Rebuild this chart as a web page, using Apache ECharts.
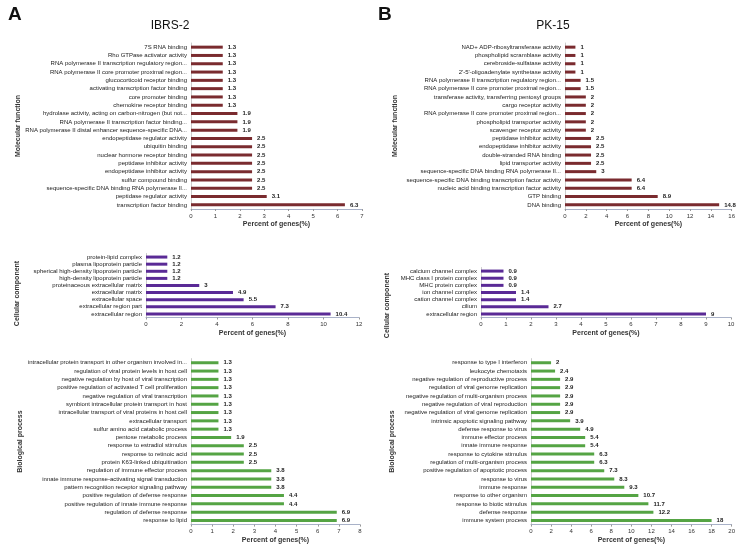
<!DOCTYPE html>
<html><head><meta charset="utf-8">
<script src="https://cdn.jsdelivr.net/npm/echarts@6/dist/echarts.min.js"></script>
<style>html,body{margin:0;padding:0;background:#fff}#c{width:738px;height:545px}</style>
</head><body><div id="c"></div>
<script>
// ---------- Data ----------
const aMfCats = ["7S RNA binding","Rho GTPase activator activity","RNA polymerase II transcription regulatory region...","RNA polymerase II core promoter proximal region...","glucocorticoid receptor binding","activating transcription factor binding","core promoter binding","chemokine receptor binding","hydrolase activity, acting on carbon-nitrogen (but not...","RNA polymerase II transcription factor binding...","RNA polymerase II distal enhancer sequence-specific DNA...","endopeptidase regulator activity","ubiquitin binding","nuclear hormone receptor binding","peptidase inhibitor activity","endopeptidase inhibitor activity","sulfur compound binding","sequence-specific DNA binding RNA polymerase II...","peptidase regulator activity","transcription factor binding"];
const aMfVals = [1.3,1.3,1.3,1.3,1.3,1.3,1.3,1.3,1.9,1.9,1.9,2.5,2.5,2.5,2.5,2.5,2.5,2.5,3.1,6.3];

const aCcCats = ["protein-lipid complex","plasma lipoprotein particle","spherical high-density lipoprotein particle","high-density lipoprotein particle","proteinaceous extracellular matrix","extracellular matrix","extracellular space","extracellular region part","extracellular region"];
const aCcVals = [1.2,1.2,1.2,1.2,3,4.9,5.5,7.3,10.4];

const aBpCats = ["intracellular protein transport in other organism involved in...","regulation of viral protein levels in host cell","negative regulation by host of viral transcription","positive regulation of activated T cell proliferation","negative regulation of viral transcription","symbiont intracellular protein transport in host","intracellular transport of viral proteins in host cell","extracellular transport","sulfur amino acid catabolic process","pentose metabolic process","response to estradiol stimulus","response to retinoic acid","protein K63-linked ubiquitination","regulation of immune effector process","innate immune response-activating signal transduction","pattern recognition receptor signaling pathway","positive regulation of defense response","positive regulation of innate immune response","regulation of defense response","response to lipid"];
const aBpVals = [1.3,1.3,1.3,1.3,1.3,1.3,1.3,1.3,1.3,1.9,2.5,2.5,2.5,3.8,3.8,3.8,4.4,4.4,6.9,6.9];

const bMfCats = ["NAD+ ADP-ribosyltransferase activity","phospholipid scramblase activity","cerebroside-sulfatase activity","2'-5'-oligoadenylate synthetase activity","RNA polymerase II transcription regulatory region...","RNA polymerase II core promoter proximal region...","transferase activity, transferring pentosyl groups","cargo receptor activity","RNA polymerase II core promoter proximal region...","phospholipid transporter activity","scavenger receptor activity","peptidase inhibitor activity","endopeptidase inhibitor activity","double-stranded RNA binding","lipid transporter activity","sequence-specific DNA binding RNA polymerase II...","sequence-specific DNA binding transcription factor activity","nucleic acid binding transcription factor activity","GTP binding","DNA binding"];
const bMfVals = [1,1,1,1,1.5,1.5,2,2,2,2,2,2.5,2.5,2.5,2.5,3,6.4,6.4,8.9,14.8];

const bCcCats = ["calcium channel complex","MHC class I protein complex","MHC protein complex","ion channel complex","cation channel complex","cilium","extracellular region"];
const bCcVals = [0.9,0.9,0.9,1.4,1.4,2.7,9];

const bBpCats = ["response to type I interferon","leukocyte chemotaxis","negative regulation of reproductive process","regulation of viral genome replication","negative regulation of multi-organism process","negative regulation of viral reproduction","negative regulation of viral genome replication","intrinsic apoptotic signaling pathway","defense response to virus","immune effector process","innate immune response","response to cytokine stimulus","regulation of multi-organism process","positive regulation of apoptotic process","response to virus","immune response","response to other organism","response to biotic stimulus","defense response","immune system process"];
const bBpVals = [2,2.4,2.9,2.9,2.9,2.9,2.9,3.9,4.9,5.4,5.4,6.3,6.3,7.3,8.3,9.3,10.7,11.7,12.2,18];

const xMaxes = [7,12,8,16,10,20];
const xIntervals = [1,2,1,2,1,2];
const yNames = ["Molecular function","Cellular component","Biological process","Molecular function","Cellular component","Biological process"];
const xName = "Percent of genes(%)";
const panelTitles = ["IBRS-2","PK-15"];
const panelLetters = ["A","B"];

// ---------- Layout / style ----------
const FONT = "Liberation Sans, Arial, sans-serif";
const colors = ["#7A2B2F","#5A2A96","#55A444"];
const grids = [
  {left:191, width:171, top:43, height:166},
  {left:146, width:213, top:253.5, height:64},
  {left:191, width:169, top:358.6, height:166},
  {left:565, width:168, top:43, height:166},
  {left:481, width:250, top:267.5, height:50},
  {left:531, width:202, top:358.6, height:166}
];
const cats = [aMfCats,aCcCats,aBpCats,bMfCats,bCcCats,bBpCats];
const vals = [aMfVals,aCcVals,aBpVals,bMfVals,bCcVals,bBpVals];
const namePad = [[0,0,0,0],[0,16,0,0],[0,0,0,0],[0,0,0,0],[0,26,0,0],[0,0,0,0]];
const nameX = [22,17,20,395,387,392];

const xAxes = [], yAxes = [], series = [];
grids.forEach((g,i)=>{
  xAxes.push({
    gridIndex:i, type:'value', min:0, max:xMaxes[i], interval:xIntervals[i],
    splitLine:{show:false},
    axisLine:{show:true, lineStyle:{color:'#A9B2C8', width:1}},
    axisTick:{show:true, length:2, lineStyle:{color:'#999'}},
    axisLabel:{fontSize:6, color:'#333', margin:4, fontFamily:FONT},
    name:xName, nameLocation:'middle', nameGap:12,
    nameTextStyle:{fontSize:7, fontWeight:'bold', color:'#333', fontFamily:FONT, verticalAlign:'top'}
  });
  yAxes.push({
    gridIndex:i, type:'category', inverse:true, data:cats[i],
    axisLine:{show:true, lineStyle:{color:'#CCCCCC', width:1}},
    axisTick:{show:false},
    axisLabel:{fontSize:6, color:'#1a1a1a', margin:4, fontFamily:FONT, interval:0},
    name:yNames[i], nameLocation:'middle', nameRotate:90,
    nameGap: g.left - nameX[i] - 4,
    nameTextStyle:{fontSize:7, fontWeight:'bold', color:'#333', fontFamily:FONT, padding:namePad[i]}
  });
  series.push({
    type:'bar', xAxisIndex:i, yAxisIndex:i, data:vals[i], barWidth:3,
    itemStyle:{color:colors[i%3]},
    label:{show:true, position:'right', distance:5, fontSize:6, fontWeight:'bold', color:'#222', fontFamily:FONT},
    animation:false
  });
});

const chart = echarts.init(document.getElementById('c'), null, {renderer:'canvas'});
chart.setOption({
  animation:false,
  backgroundColor:'#fff',
  textStyle:{fontFamily:FONT},
  title:[
    {text:panelLetters[0], left:3, top:0, textStyle:{fontSize:19, fontWeight:'bold', color:'#111', fontFamily:FONT}},
    {text:panelLetters[1], left:373, top:0, textStyle:{fontSize:19, fontWeight:'bold', color:'#111', fontFamily:FONT}},
    {text:panelTitles[0], left:165, top:15, textAlign:'center', textStyle:{fontSize:12, fontWeight:'normal', color:'#111', fontFamily:FONT}},
    {text:panelTitles[1], left:548, top:15, textAlign:'center', textStyle:{fontSize:12, fontWeight:'normal', color:'#111', fontFamily:FONT}}
  ],
  grid:grids.map(g=>Object.assign({containLabel:false}, g)),
  xAxis:xAxes, yAxis:yAxes, series:series
});
</script></body></html>
